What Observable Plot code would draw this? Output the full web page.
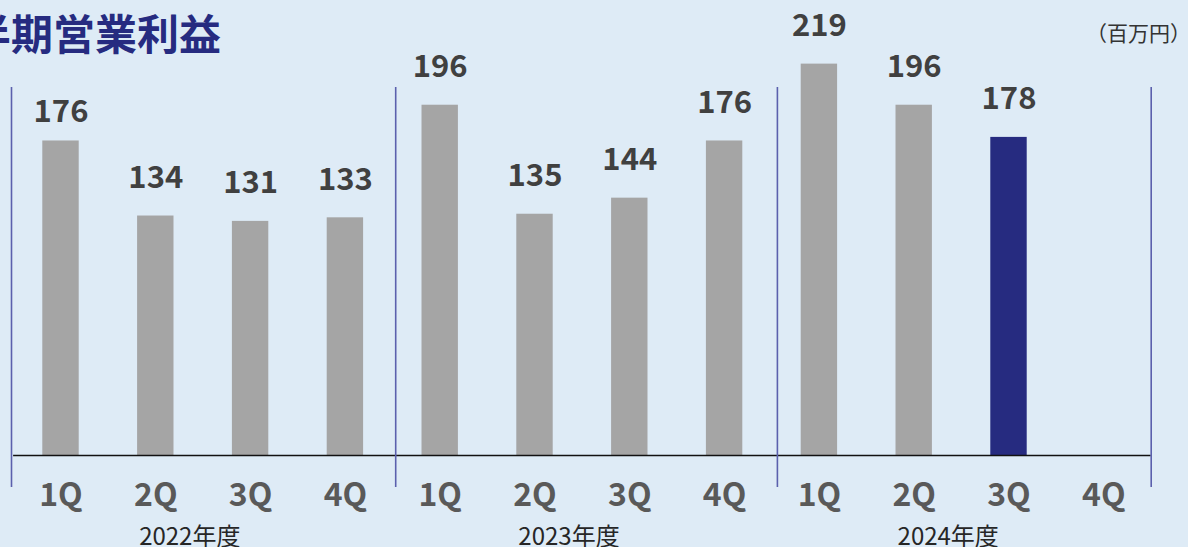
<!DOCTYPE html>
<html>
<head>
<meta charset="utf-8">
<script src="https://cdn.jsdelivr.net/npm/d3@7"></script>
<script src="https://cdn.jsdelivr.net/npm/@observablehq/plot@0.6"></script>
<style>
  html, body { margin: 0; padding: 0; background: #deebf6; overflow: hidden; }
  #wrap { position: relative; width: 1188px; height: 547px; overflow: hidden; font-family: "Noto Sans CJK JP", "Noto Sans", sans-serif; }
  #title { position: absolute; right: 967px; top: 11px; font-size: 42px; line-height: 1; font-weight: 700; color: #262b80; white-space: nowrap; }
  #unit { position: absolute; left: 1086px; top: 22px; font-size: 21px; line-height: 1; color: #333333; white-space: nowrap; }
</style>
</head>
<body>
<div id="wrap">
  <div id="chart"></div>
  <div id="title">四半期営業利益</div>
  <div id="unit">（百万円）</div>
</div>
<script>
const years = ["2022", "2023", "2024"];
const yearLabels = ["2022年度", "2023年度", "2024年度"];
const quarters = ["1Q", "2Q", "3Q", "4Q"];
const values2022 = [176, 134, 131, 133];
const values2023 = [196, 135, 144, 176];
const values2024 = [219, 196, 178, null];
const highlightKey = "2024-3Q";
const loweredLabelKey = "2022-1Q";

const seriesByYear = {"2022": values2022, "2023": values2023, "2024": values2024};
const keys = [];
const rows = [];
for (const y of years) {
  quarters.forEach((q, i) => {
    const key = `${y}-${q}`;
    keys.push(key);
    const v = seriesByYear[y][i];
    if (v != null) rows.push({key, year: y, quarter: q, value: v});
  });
}
const yearRows = years.map((y, i) => ({key: `${y}-2Q`, label: yearLabels[i]}));

const navy = "#262b80";
const gray = "#a5a5a5";
const sep = "#5b60ad";
const labelStyle = {x: "key", y: "value", text: d => String(d.value), lineAnchor: "bottom", fontSize: 31, fontWeight: 700, fill: "#404040"};

const chart = Plot.plot({
  width: 1188,
  height: 547,
  marginLeft: 13.1,
  marginRight: 37.3,
  marginTop: 0,
  marginBottom: 92,
  style: {background: "transparent", fontFamily: "'Noto Sans CJK JP', 'Noto Sans', sans-serif"},
  x: {type: "band", domain: keys, paddingInner: 0.616, paddingOuter: 0.308, round: false, axis: null},
  y: {domain: [0, 254.6], axis: null},
  marks: [
    Plot.barY(rows, {x: "key", y: "value", fill: d => d.key === highlightKey ? navy : gray}),
    Plot.ruleY([0], {stroke: "#111111", strokeWidth: 1.3}),
    Plot.ruleX(["2022-1Q"], {x: d => d, dx: -49.5, stroke: sep, strokeWidth: 1.6, insetTop: 87, insetBottom: -32}),
    Plot.ruleX(["2023-1Q"], {x: d => d, dx: -44.5, stroke: sep, strokeWidth: 1.6, insetTop: 87, insetBottom: -32}),
    Plot.ruleX(["2024-1Q"], {x: d => d, dx: -42, stroke: sep, strokeWidth: 1.6, insetTop: 87, insetBottom: -32}),
    Plot.ruleX(["2024-4Q"], {x: d => d, dx: 47.4, stroke: sep, strokeWidth: 1.6, insetTop: 87, insetBottom: -32}),
    Plot.text(rows, {...labelStyle, filter: d => d.key !== loweredLabelKey, dy: -28}),
    Plot.text(rows, {...labelStyle, filter: d => d.key === loweredLabelKey, dy: -19}),
    Plot.axisX({label: null, tickSize: 0, tickPadding: 28, fontSize: 32, fontWeight: 700, fill: "#595959", tickFormat: d => d.split("-")[1]}),
    Plot.text(yearRows, {x: "key", text: "label", frameAnchor: "bottom", lineAnchor: "bottom", dx: 34, dy: 89, fontSize: 24, fill: "#262626"})
  ]
});
document.getElementById("chart").appendChild(chart);
</script>
</body>
</html>
